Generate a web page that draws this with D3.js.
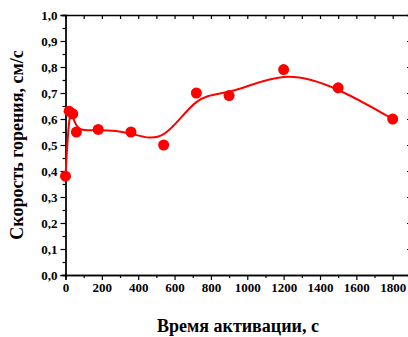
<!DOCTYPE html>
<html>
<head>
<meta charset="utf-8">
<script src="https://cdn.jsdelivr.net/npm/d3@7"></script>
<style>
  body { margin: 0; background: #fff; }
</style>
</head>
<body>
<div id="chart"></div>
<script>
// activation time, s
const time = [0, 20, 40, 60, 180, 360, 540, 720, 900, 1200, 1500, 1800];
// burning rate, cm/s
const rate = [0.38, 0.63, 0.62, 0.55, 0.56, 0.55, 0.50, 0.70, 0.69, 0.79, 0.72, 0.60];
const xTicks = [0, 200, 400, 600, 800, 1000, 1200, 1400, 1600, 1800];
const yTicks = [0, 0.1, 0.2, 0.3, 0.4, 0.5, 0.6, 0.7, 0.8, 0.9, 1.0];

const font = "'Liberation Serif', 'Times New Roman', Times, serif";
const width = 408, height = 337;
const margin = { left: 65.5, top: 15, right: -3, bottom: 62 };
const innerW = width - margin.left - margin.right;
const innerH = height - margin.top - margin.bottom;

const svg = d3.select("#chart").append("svg")
  .attr("width", width).attr("height", height);
const g = svg.append("g").attr("transform", `translate(${margin.left},${margin.top})`);

const x = d3.scaleLinear().domain([0, 1800 * innerW / 327.2]).range([0, innerW]);
const y = d3.scaleLinear().domain([0, 1]).range([innerH, 0]);

const fmt = d => d3.format(".1f")(d).replace(".", ",");

// bottom axis
const bottom = g.append("g").attr("transform", `translate(0,${innerH})`);
bottom.call(d3.axisBottom(x).tickValues(d3.range(100, 1900, 200)).tickSize(3).tickFormat(""));
bottom.append("g").call(d3.axisBottom(x).tickValues(xTicks).tickSize(5).tickPadding(3).tickFormat(d3.format("d")));
// left axis
const left = g.append("g");
left.call(d3.axisLeft(y).tickValues(d3.range(0.05, 1, 0.1)).tickSize(3).tickFormat(""));
left.append("g").call(d3.axisLeft(y).tickValues(yTicks).tickSize(5).tickPadding(3).tickFormat(fmt));
// top axis
g.append("g").call(d3.axisBottom(x).tickValues(d3.range(100, 1900, 100)).tickSize(4).tickFormat(""));
// right axis
g.append("g").attr("transform", `translate(${innerW},0)`)
  .call(d3.axisLeft(y).tickValues(yTicks).tickSize(4).tickFormat(""));

svg.selectAll("g").attr("font-family", null);
svg.selectAll(".domain").attr("stroke", "#000").attr("stroke-width", 1.3);
svg.selectAll(".tick line").attr("stroke", "#000").attr("stroke-width", 1.2);
svg.selectAll(".tick text").attr("fill", "#000")
  .style("font-family", font).style("font-weight", "bold").style("font-size", "13px");

// smoothed line
const line = d3.line().x((d, i) => x(time[i])).y(d => y(d)).curve(d3.curveBasis);
g.append("path").datum(rate).attr("d", line)
  .attr("fill", "none").attr("stroke", "#ff0000").attr("stroke-width", 2);

g.selectAll("circle").data(rate).join("circle")
  .attr("cx", (d, i) => x(time[i])).attr("cy", d => y(d)).attr("r", 5.5)
  .attr("fill", "#ff0000");

// titles
svg.append("text")
  .attr("transform", `translate(23,${margin.top + innerH / 2}) rotate(-90)`)
  .attr("text-anchor", "middle")
  .style("font-family", font).style("font-weight", "bold").style("font-size", "18px")
  .text("Скорость горения, см/с");
svg.append("text")
  .attr("x", 238).attr("y", 332)
  .attr("text-anchor", "middle")
  .style("font-family", font).style("font-weight", "bold").style("font-size", "18px")
  .text("Время активации, с");
</script>
</body>
</html>
